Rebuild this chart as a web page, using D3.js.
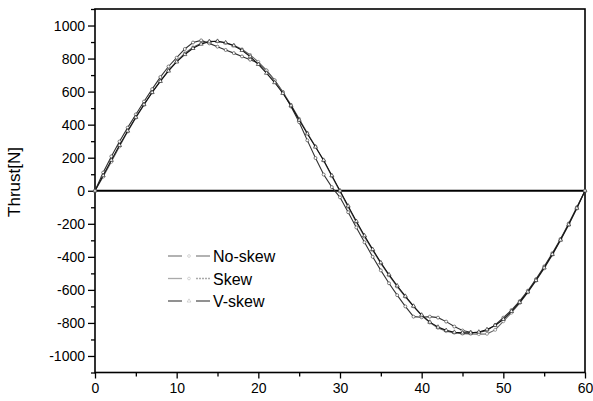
<!DOCTYPE html>
<html>
<head>
<meta charset="utf-8">
<script src="https://cdn.jsdelivr.net/npm/d3@7"></script>
<style>
  body { margin: 0; background: white; }
  text { font-family: "Liberation Sans", Arial, sans-serif; fill: black; }
</style>
</head>
<body>
<script>
// Data (x = position, 0..60)
const xValues = [0,1,2,3,4,5,6,7,8,9,10,11,12,13,14,15,16,17,18,19,20,
                 21,22,23,24,25,26,27,28,29,30,31,32,33,34,35,36,37,38,39,40,
                 41,42,43,44,45,46,47,48,49,50,51,52,53,54,55,56,57,58,59,60];

const noSkew = [0,110,208,298,382,462,540,615,688,752,805,858,897,910,892,872,852,833,813,793,772,
                728,668,598,510,415,305,198,98,22,-40,-130,-222,-312,-400,-482,-560,-632,-700,-762,-766,
                -762,-768,-792,-822,-846,-856,-858,-845,-812,-768,-722,-668,-605,-535,-458,-378,-292,-198,-100,0];

const skew = [0,85,175,268,358,442,520,596,665,728,785,832,868,892,904,904,895,880,856,822,780,
              728,668,598,520,435,350,268,182,88,-5,-98,-190,-278,-360,-440,-512,-580,-642,-700,-755,
              -798,-830,-850,-860,-865,-866,-868,-866,-842,-790,-738,-680,-615,-545,-470,-388,-300,-208,-108,0];

const vSkew = [0,92,185,275,362,445,522,595,662,725,780,825,862,888,902,905,896,878,850,812,765,
               712,655,590,515,428,345,265,185,92,0,-92,-185,-272,-355,-435,-508,-575,-638,-698,-752,
               -795,-825,-845,-856,-860,-860,-855,-840,-815,-778,-730,-675,-612,-542,-466,-385,-298,-205,-105,0];

const seriesNames = ["No-skew", "Skew", "V-skew"];
const xTicks = [0, 10, 20, 30, 40, 50, 60];
const yTicks = [-1000, -800, -600, -400, -200, 0, 200, 400, 600, 800, 1000];

const series = [
    {name: seriesNames[0], values: noSkew, color: "#333", symbol: d3.symbolCircle},
    {name: seriesNames[1], values: skew, color: "#666", symbol: d3.symbolCircle},
    {name: seriesNames[2], values: vSkew, color: "#111", symbol: d3.symbolTriangle}
];

// Set up margins
const outerWidth = 593, outerHeight = 401;
const margin = {left: 95, top: 9, right: 8, bottom: 28.5};
const width = outerWidth - margin.left - margin.right;
const height = outerHeight - margin.top - margin.bottom;

const svg = d3.select("body").append("svg")
    .attr("width", outerWidth)
    .attr("height", outerHeight);

const canvas = svg.append("g")
    .attr("transform", `translate(${margin.left}, ${margin.top})`);

// Scales
const xScale = d3.scaleLinear().domain([0, 60]).range([0, width]);
const yScale = d3.scaleLinear().domain([-1100, 1100]).range([height, 0]);

// Minor ticks
canvas.append("g")
    .attr("transform", `translate(0, ${height})`)
    .call(d3.axisBottom(xScale).tickValues([5, 15, 25, 35, 45, 55]).tickSize(4).tickFormat(""))
    .call(g => g.select(".domain").remove());
canvas.append("g")
    .call(d3.axisLeft(yScale).tickValues([-1100, -900, -700, -500, -300, -100, 100, 300, 500, 700, 900, 1100]).tickSize(4).tickFormat(""))
    .call(g => g.select(".domain").remove());

// Axes
const plain = d => String(d);
const xAxisGroup = canvas.append("g")
    .attr("transform", `translate(0, ${height})`)
    .call(d3.axisBottom(xScale).tickValues(xTicks).tickSize(6).tickPadding(5).tickFormat(plain));
xAxisGroup.selectAll("text").style("font-size", "14px");
xAxisGroup.select(".domain").remove();

const yAxisGroup = canvas.append("g")
    .call(d3.axisLeft(yScale).tickValues(yTicks).tickSize(7).tickPadding(3).tickFormat(plain));
yAxisGroup.selectAll("text").style("font-size", "14px");
yAxisGroup.select(".domain").remove();

canvas.selectAll(".tick line").attr("stroke", "black").attr("stroke-width", 1.3);

// Frame
canvas.append("rect")
    .attr("width", width)
    .attr("height", height)
    .attr("fill", "none")
    .attr("stroke", "black")
    .attr("stroke-width", 1.6);

// Zero line
canvas.append("line")
    .attr("x1", 0).attr("x2", width)
    .attr("y1", yScale(0)).attr("y2", yScale(0))
    .attr("stroke", "black")
    .attr("stroke-width", 2);

// Y label
svg.append("text")
    .text("Thrust[N]")
    .attr("text-anchor", "middle")
    .attr("transform", "translate(20, 182) rotate(-90)")
    .style("font-size", "17px");

// Lines and markers
const line = d3.line()
    .x((d, i) => xScale(xValues[i]))
    .y(d => yScale(d));

series.forEach(s => {
    canvas.append("path")
        .datum(s.values)
        .attr("fill", "none")
        .attr("stroke", s.color)
        .attr("stroke-width", 1.1)
        .attr("d", line);

    canvas.selectAll(null)
        .data(s.values)
        .join("path")
        .attr("transform", (d, i) => `translate(${xScale(xValues[i])}, ${yScale(d)})`)
        .attr("d", d3.symbol().type(s.symbol).size(7))
        .attr("fill", "white")
        .attr("stroke", s.color)
        .attr("stroke-width", 0.6);
});

// Legend
const legendColors = ["#888", "#aaa", "#555"];
const legend = svg.append("g").attr("transform", "translate(168, 256)");
series.forEach((s, i) => {
    const row = legend.append("g").attr("transform", `translate(0, ${i * 22.5})`);
    row.append("line").attr("x1", 0).attr("x2", 14).attr("y1", 0).attr("y2", 0)
        .attr("stroke", legendColors[i]).attr("stroke-width", 1.3);
    row.append("line").attr("x1", 28).attr("x2", 42).attr("y1", 0).attr("y2", 0)
        .attr("stroke", legendColors[i]).attr("stroke-width", 1.3)
        .attr("stroke-dasharray", i === 1 ? "2,1" : null);
    row.append("path")
        .attr("transform", "translate(21, 0)")
        .attr("d", d3.symbol().type(s.symbol).size(6))
        .attr("fill", "white")
        .attr("stroke", "#bbb")
        .attr("stroke-width", 0.6);
    row.append("text")
        .text(s.name)
        .attr("x", 45)
        .attr("y", 6)
        .style("font-size", "16px");
});
</script>
</body>
</html>
